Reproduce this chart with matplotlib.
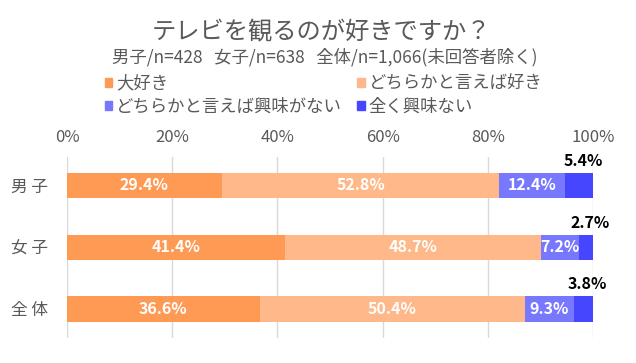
import matplotlib

matplotlib.use("Agg")
from matplotlib import pyplot as plt
from matplotlib.patches import Patch

plt.rcParams["font.family"] = ["Noto Sans CJK JP", "DejaVu Sans"]

groups = ["男 子", "女 子", "全 体"]
series_names = ["大好き", "どちらかと言えば好き", "どちらかと言えば興味がない", "全く興味ない"]
daisuki = [29.4, 41.4, 36.6]
suki = [52.8, 48.7, 50.4]
kyomi_nai = [12.4, 7.2, 9.3]
mattaku = [5.4, 2.7, 3.8]
colors = ["#FF9A55", "#FFB889", "#7878FF", "#4646FF"]
xticks = [0, 20, 40, 60, 80, 100]

W, H = 636, 363
fig = plt.figure(figsize=(W / 100, H / 100), dpi=100)
ax = fig.add_axes([67 / W, 1 - 338 / H, 526 / W, 181 / H])

gray = "#595959"
pos = list(range(len(groups)))
left = [0.0] * len(groups)
for vals, col in zip([daisuki, suki, kyomi_nai, mattaku], colors):
    ax.barh(pos, vals, left=left, height=0.41, color=col, zorder=2)
    for i, v in enumerate(vals):
        cx = left[i] + v / 2
        if col == colors[3]:
            # 最後の項目は棒の外側(上)に表示
            ax.text(cx + 0.8, pos[i] - 0.27, f"{v}%", ha="center", va="bottom",
                    fontsize=11.5, color="black", fontweight="bold")
        else:
            ax.text(cx, pos[i], f"{v}%", ha="center", va="center",
                    fontsize=11.5, color="white", fontweight="bold")
    left = [l + v for l, v in zip(left, vals)]

ax.set_xlim(0, 100)
ax.set_ylim(2.47, -0.46)
ax.set_xticks(xticks)
ax.set_xticklabels([f"{t}%" for t in xticks])
ax.xaxis.tick_top()
ax.tick_params(axis="x", length=0, pad=8, labelsize=12, labelcolor=gray)
ax.set_yticks(pos)
ax.set_yticklabels(groups)
ax.tick_params(axis="y", length=0, pad=14, labelsize=12, labelcolor=gray)
ax.grid(axis="x", color="#D9D9D9", linewidth=1, zorder=0)
for s in ax.spines.values():
    s.set_visible(False)

fig.text(0.505, 1 - 32 / H, "テレビを観るのが好きですか？", ha="center", va="center",
         fontsize=17.5, color=gray)
fig.text(0.51, 1 - 57 / H, "男子/n=428   女子/n=638   全体/n=1,066(未回答者除く)",
         ha="center", va="center", fontsize=12.5, color=gray)

handles = [Patch(color=colors[i]) for i in [0, 2, 1, 3]]
labels = [series_names[i] for i in [0, 2, 1, 3]]
fig.legend(handles, labels, ncol=2, loc="upper left", bbox_to_anchor=(96 / W, 1 - 66 / H),
           frameon=False, fontsize=12.5, labelcolor=gray, handlelength=0.45, handleheight=0.45,
           handletextpad=0.2, columnspacing=0.9, labelspacing=0.3, borderpad=0)

fig.savefig("out.png", dpi=100)
